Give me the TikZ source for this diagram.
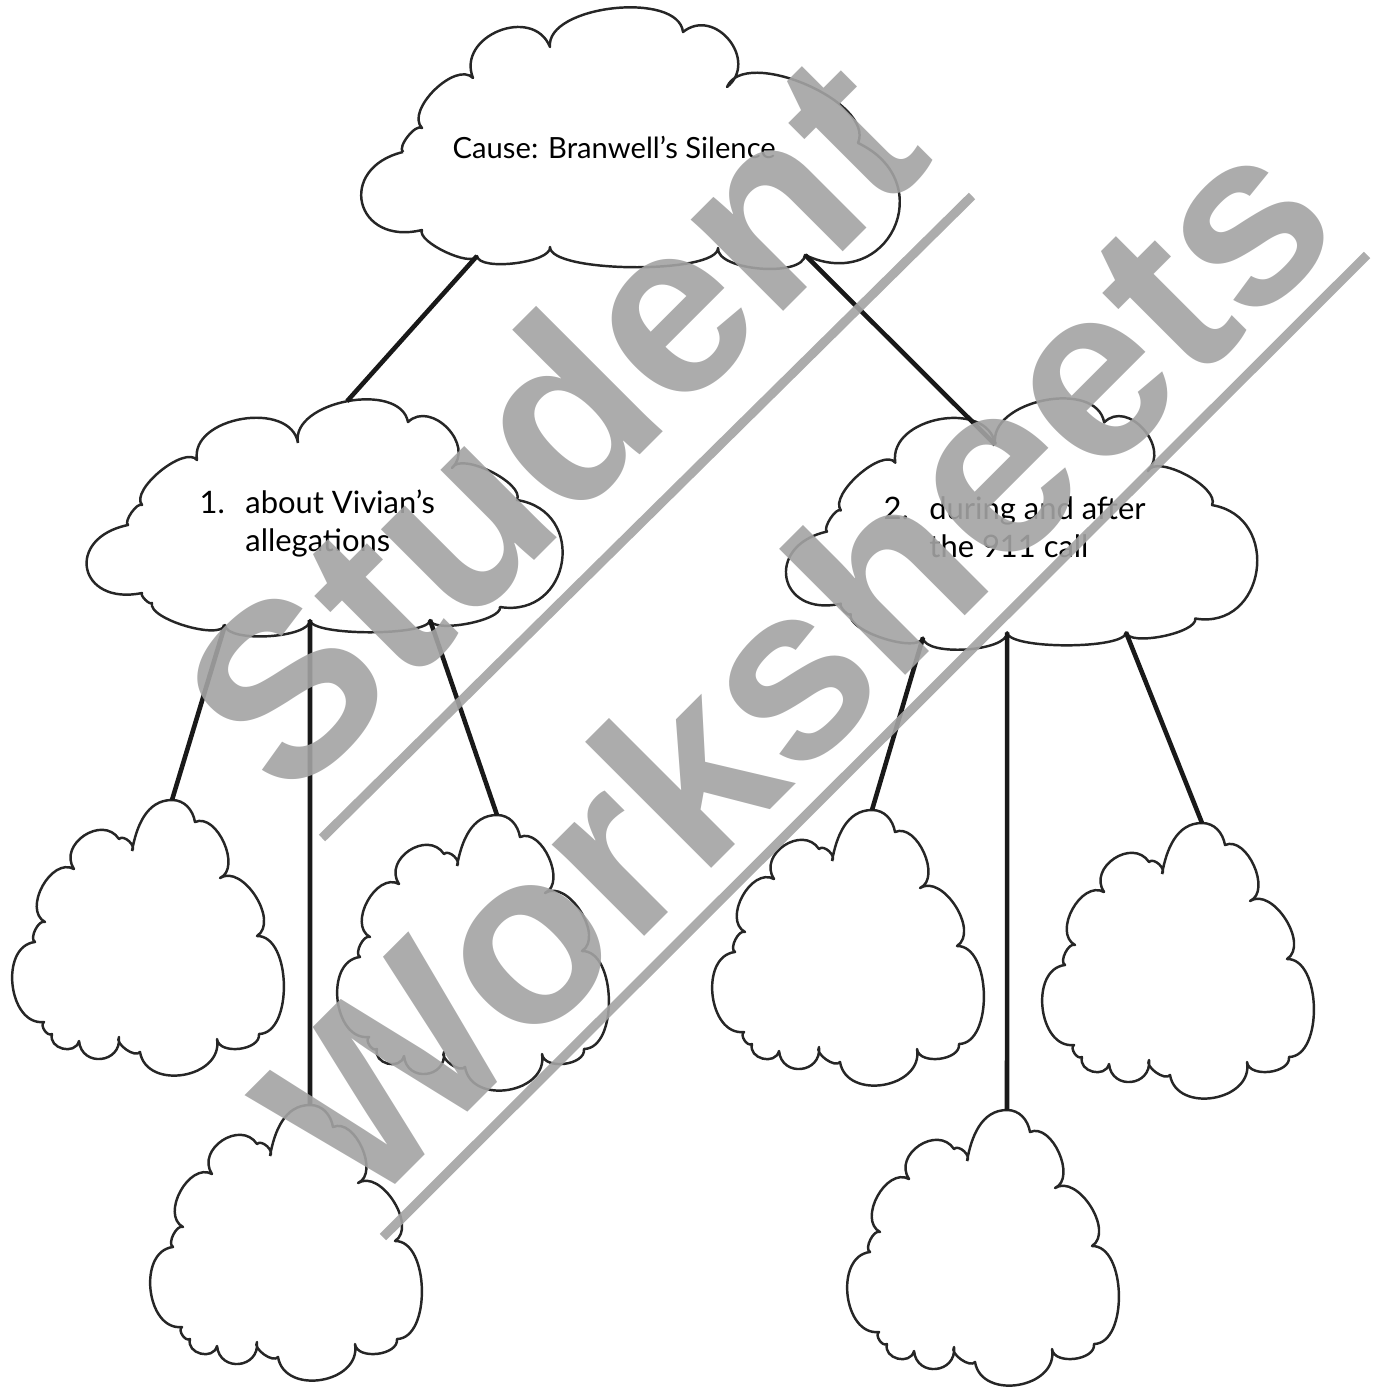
\documentclass[tikz,border=0pt]{standalone}
\usepackage{fontspec}
\setmainfont{Lato}
\newfontfamily\wmfont{Liberation Sans}
\usetikzlibrary{calc}

\tikzset{
  pf/.style={bend left=90, looseness=#1},
  cloudline/.style={draw=black!85, line width=0.7pt, line join=round},
  % the cloud at the top
  topcloud/.pic={
    \draw[cloudline] (-2.29,-0.19) to[pf=0.66] (-2.10,0.05) to[pf=0.88] (-1.59,0.55)
      to[pf=1.4] (-0.82,0.86) to[pf=0.8] (0.51,1.01) to[pf=1.5] (0.95,0.46)
      to[pf=0.8] (2.26,-0.10) to[pf=1.9] (1.73,-1.22) coordinate (-r)
      to[pf=0.67] (0.86,-1.15) to[pf=0.4] (-0.82,-1.14) to[pf=0.55] (-1.55,-1.23) coordinate (-l)
      to[pf=0.55] (-2.10,-0.97) to[pf=2.2] (-2.29,-0.19);
  },
  % the two clouds with text
  midcloud/.pic={
    \draw[cloudline] (-0.27,0.72) coordinate (-in)
      to[pf=0.97] coordinate[pos=0.5] (-top) (0.83,0.93)
      to[pf=1.3] (1.27,0.47) to[pf=0.66] (1.92,0.15) to[pf=1.7] (1.75,-0.92)
      to[pf=0.5] (1.05,-1.05) coordinate (-c) to[pf=0.35] (-0.15,-1.05) coordinate (-b)
      to[pf=0.55] (-1.00,-1.10) coordinate (-a) to[pf=0.55] (-1.73,-0.88)
      to[pf=0.6] (-1.83,-0.78) to[pf=2.4] (-1.97,-0.10) to[pf=0.6] (-1.83,0.10)
      to[pf=0.7] (-1.28,0.55) to[pf=1.1] (-0.27,0.72);
  },
  % the empty clouds at the bottom
  smallcloud/.pic={
    \draw[cloudline] (-0.15,0.90) to[out=80,in=180] (0.25,1.41) coordinate (-top)
      to[out=0,in=100] (0.48,1.19) to[pf=1.0] (0.73,0.63) to[pf=1.0] (1.10,0.05)
      to[pf=0.9] (1.12,-0.93) to[pf=1.0] (0.70,-0.98) to[pf=1.3] (-0.07,-1.11)
      to[pf=0.8] (-0.28,-0.96) to[pf=1.7] (-0.68,-1.00) to[pf=1.4] (-0.95,-0.93)
      to[pf=1] (-1.03,-0.81) to[pf=1.15] (-1.12,-0.01) to[pf=0.8] (-1.02,0.19)
      to[pf=1.1] (-0.73,0.72) to[pf=1.4] (-0.28,1.02) to[pf=1] (-0.15,0.90);
  }
}

\begin{document}
\begin{tikzpicture}[
    link/.style={line width=1.3pt, black!90},
    words/.style={font=\fontsize{8.8}{10.8}\selectfont, align=left, inner sep=0pt},
    wmark/.style={font=\wmfont\bfseries\fontsize{70}{70}\selectfont, text=black!36,
      text opacity=0.9, rotate=45, inner sep=0pt},
    wline/.style={line width=2.6pt, black!36, opacity=0.9}
  ]
    \useasboundingbox (0,0) rectangle (13.82,-13.89);

    % clouds
    \pic (cause) at (6.32,-1.33) {topcloud};
    \pic (vivian) at (3.25,-5.15) {midcloud};
    \pic[xscale=0.99, yscale=1.06] (call) at (10.22,-5.21) {midcloud};
    \pic (c1) at (1.47,-9.41) {smallcloud};
    \pic (c2) at (2.85,-12.46) {smallcloud};
    \pic (c3) at (4.72,-9.56) {smallcloud};
    \pic (c4) at (8.47,-9.51) {smallcloud};
    \pic (c5) at (9.82,-12.51) {smallcloud};
    \pic (c6) at (11.77,-9.64) {smallcloud};

    % texts
    \node[words, font=\fontsize{8.3}{10}\selectfont, anchor=base west] (causetext)
      at (4.52,-1.59) {Cause: Branwell's Silence};
    \node[words, anchor=west] (viviantext) at (1.99,-5.235)
      {\makebox[13pt][l]{1.}about Vivian's\\\makebox[13pt][l]{}allegations};
    \node[words, anchor=west] (calltext) at (8.83,-5.27)
      {\makebox[13pt][l]{2.}during and after\\\makebox[13pt][l]{}the 911 call};

    % links
    \draw[link] (cause-l) -- (vivian-top);
    \draw[link] (cause-r) -- (call-in);
    \draw[link] (vivian-a) -- (c1-top);
    \draw[link] (vivian-b) -- (c2-top);
    \draw[link] (vivian-c) -- (c3-top);
    \draw[link] (call-a) -- (c4-top);
    \draw[link] (call-b) -- (c5-top);
    \draw[link] (call-c) -- (c6-top);

    % watermark
    \node[wmark] (student) at (5.50,-4.21) {Student};
    \node[wmark] (worksheets) at (7.94,-6.62) {Worksheets};
    \draw[wline] (3.22,-8.38) -- (9.72,-1.96);
    \draw[wline] (3.83,-12.37) -- (13.67,-2.55);
\end{tikzpicture}
\end{document}
